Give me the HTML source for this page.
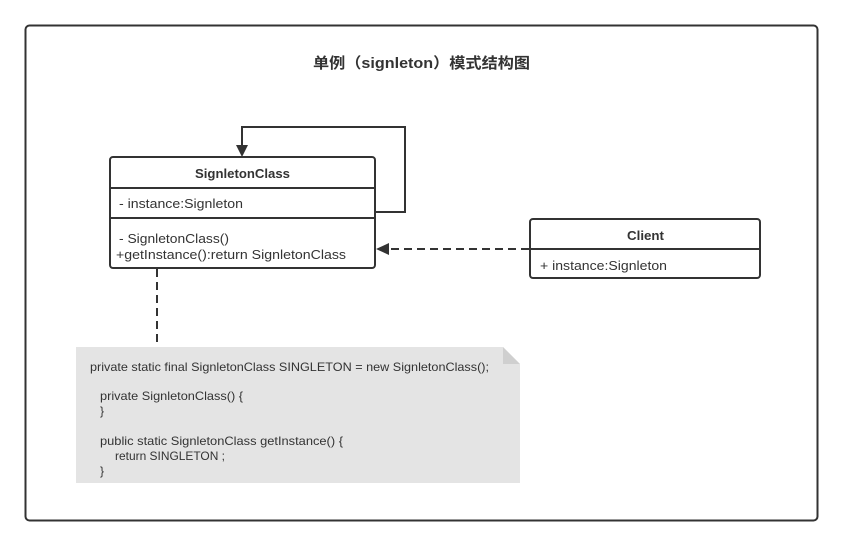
<!DOCTYPE html>
<html><head><meta charset="utf-8"><style>
html,body{margin:0;padding:0;background:#fff;width:843px;height:546px;overflow:hidden}
svg{display:block}
text{font-family:"Liberation Sans","Noto Sans CJK SC",sans-serif;fill:#333}
</style></head><body>
<svg width="843" height="546" viewBox="0 0 843 546">
<rect x="25.5" y="25.5" width="792" height="495" rx="4" fill="#fff" stroke="#333" stroke-width="2"/>
<text x="313" y="68" font-size="15" font-weight="bold" textLength="217" lengthAdjust="spacingAndGlyphs">单例（signleton）模式结构图</text>
<polyline points="376,212 405,212 405,127 242,127 242,146" fill="none" stroke="#333" stroke-width="2"/>
<polygon points="236,145 248,145 242,157" fill="#333"/>
<rect x="110" y="157" width="265" height="111" rx="3" fill="#fff" stroke="#333" stroke-width="2"/>
<line x1="110" y1="188" x2="375" y2="188" stroke="#333" stroke-width="2"/>
<line x1="110" y1="218" x2="375" y2="218" stroke="#333" stroke-width="2"/>
<text x="195" y="178" font-size="13" font-weight="bold" textLength="95" lengthAdjust="spacingAndGlyphs">SignletonClass</text>
<text x="119" y="208" font-size="13" textLength="124" lengthAdjust="spacingAndGlyphs">- instance:Signleton</text>
<text x="119" y="243" font-size="13" textLength="110" lengthAdjust="spacingAndGlyphs">- SignletonClass()</text>
<text x="116" y="259" font-size="13" textLength="230" lengthAdjust="spacingAndGlyphs">+getInstance():return SignletonClass</text>
<rect x="530" y="219" width="230" height="59" rx="3" fill="#fff" stroke="#333" stroke-width="2"/>
<line x1="530" y1="249" x2="760" y2="249" stroke="#333" stroke-width="2"/>
<text x="627" y="240" font-size="13" font-weight="bold" textLength="37" lengthAdjust="spacingAndGlyphs">Client</text>
<text x="540" y="270" font-size="13" textLength="127" lengthAdjust="spacingAndGlyphs">+ instance:Signleton</text>
<line x1="529" y1="249" x2="388" y2="249" stroke="#333" stroke-width="2" stroke-dasharray="8,5"/>
<polygon points="376,249 389,243 389,255" fill="#333"/>
<line x1="157" y1="269" x2="157" y2="347" stroke="#333" stroke-width="2" stroke-dasharray="8,5"/>
<polygon points="76,347 503,347 520,364 520,483 76,483" fill="#e4e4e4"/>
<polygon points="503,347 520,364 503,364" fill="#cfcfcf"/>
<g font-size="12">
<text x="90" y="371" textLength="399" lengthAdjust="spacingAndGlyphs">private static final SignletonClass SINGLETON = new SignletonClass();</text>
<text x="100" y="400" textLength="143" lengthAdjust="spacingAndGlyphs">private SignletonClass() {</text>
<text x="100" y="415">}</text>
<text x="100" y="445" textLength="243" lengthAdjust="spacingAndGlyphs">public static SignletonClass getInstance() {</text>
<text x="115" y="460" textLength="110" lengthAdjust="spacingAndGlyphs">return SINGLETON ;</text>
<text x="100" y="475">}</text>
</g>
</svg>
</body></html>
